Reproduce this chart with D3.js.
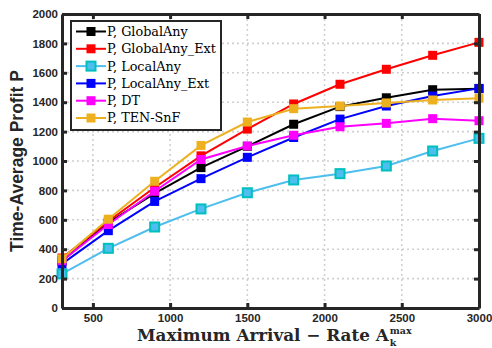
<!DOCTYPE html>
<html>
<head>
<meta charset="utf-8">
<script src="https://cdn.jsdelivr.net/npm/d3@7"></script>
<style>
  body { margin: 0; background: #fff; }
  svg { display: block; }
</style>
</head>
<body>
<div id="chart"></div>
<script>
// x positions (maximum arrival rate)
const arrival = [300, 600, 900, 1200, 1500, 1800, 2100, 2400, 2700, 3000];

const globalAny    = [320, 580, 780, 955, 1100, 1250, 1370, 1430, 1485, 1492];
const globalAnyExt = [340, 590, 820, 1035, 1217, 1388, 1522, 1624, 1719, 1807];
const localAny     = [232, 406, 551, 674, 784, 871, 914, 966, 1068, 1154];
const localAnyExt  = [300, 526, 725, 880, 1025, 1160, 1285, 1374, 1442, 1494];
const dt           = [322, 568, 794, 1010, 1102, 1175, 1233, 1256, 1288, 1274];
const tenSnF       = [335, 604, 862, 1106, 1265, 1356, 1374, 1395, 1415, 1427];

const xTicks = [500, 1000, 1500, 2000, 2500, 3000];
const yTicks = [0, 200, 400, 600, 800, 1000, 1200, 1400, 1600, 1800, 2000];

const series = [
  {label: 'P, GlobalAny',     values: globalAny,    line: '#000000', face: '#000000', edge: '#000000'},
  {label: 'P, GlobalAny_Ext', values: globalAnyExt, line: '#ff0000', face: '#ff0000', edge: '#ff0000'},
  {label: 'P, LocalAny',      values: localAny,     line: '#4dbeee', face: '#4dbeee', edge: '#00bfbf'},
  {label: 'P, LocalAny_Ext',  values: localAnyExt,  line: '#0000ff', face: '#0000ff', edge: '#0000ff'},
  {label: 'P, DT',            values: dt,           line: '#ff00ff', face: '#ff00ff', edge: '#ff00ff'},
  {label: 'P, TEN-SnF',       values: tenSnF,       line: '#edb120', face: '#edb120', edge: '#edb120'}
];

const width = 492, height = 348;
const margin = {left: 62, top: 14, right: 13, bottom: 40};
const w = width - margin.left - margin.right;
const h = height - margin.top - margin.bottom;
const axisColor = '#262626';

const svg = d3.select('#chart').append('svg')
  .attr('width', width).attr('height', height);

const g = svg.append('g')
  .attr('transform', 'translate(' + margin.left + ',' + margin.top + ')');

const x = d3.scaleLinear().domain([300, 3000]).range([0, w]);
const y = d3.scaleLinear().domain([0, 2000]).range([h, 0]);

// grid
const grid = g.append('g').attr('class', 'grid');
grid.selectAll('line.gx').data(xTicks.slice(0, -1)).enter().append('line')
  .attr('x1', d => x(d)).attr('x2', d => x(d))
  .attr('y1', 0).attr('y2', h)
  .attr('stroke', '#d0d0d0').attr('stroke-width', 1.6).attr('stroke-dasharray', '2,3');
grid.selectAll('line.gy').data(yTicks.slice(1, -1)).enter().append('line')
  .attr('x1', 0).attr('x2', w)
  .attr('y1', d => y(d)).attr('y2', d => y(d))
  .attr('stroke', '#d0d0d0').attr('stroke-width', 1.6).attr('stroke-dasharray', '2,3');

// lines
const line = d3.line()
  .x((d, i) => x(arrival[i]))
  .y(d => y(d));

const ms = 9;
series.forEach(s => {
  g.append('path')
    .datum(s.values)
    .attr('d', line)
    .attr('fill', 'none')
    .attr('stroke', s.line)
    .attr('stroke-width', 2);
  g.append('g').selectAll('rect').data(s.values).enter().append('rect')
    .attr('x', (d, i) => x(arrival[i]) - ms / 2)
    .attr('y', d => y(d) - ms / 2)
    .attr('width', ms).attr('height', ms)
    .attr('fill', s.face)
    .attr('stroke', s.edge)
    .attr('stroke-width', s.edge === s.face ? 0 : 2);
});

// axes
const tickFont = 'Liberation Sans, Arial, sans-serif';
const fmt = d3.format('d');
const axB = g.append('g')
  .attr('transform', 'translate(0,' + h + ')')
  .call(d3.axisBottom(x).tickValues(xTicks).tickFormat(fmt).tickSizeInner(-5).tickSizeOuter(0).tickPadding(6));
const axL = g.append('g')
  .call(d3.axisLeft(y).tickValues(yTicks).tickFormat(fmt).tickSizeInner(-5).tickSizeOuter(0).tickPadding(4));
const axT = g.append('g')
  .call(d3.axisTop(x).tickValues(xTicks).tickSizeInner(-5).tickSizeOuter(0).tickFormat(''));
const axR = g.append('g')
  .attr('transform', 'translate(' + w + ',0)')
  .call(d3.axisRight(y).tickValues(yTicks).tickSizeInner(-5).tickSizeOuter(0).tickFormat(''));

[axB, axL, axT, axR].forEach(a => {
  a.select('path.domain').attr('stroke', axisColor).attr('stroke-width', 3);
  a.selectAll('.tick line').attr('stroke', axisColor).attr('stroke-width', 3);
  a.selectAll('.tick text')
    .attr('fill', axisColor)
    .attr('font-family', tickFont)
    .attr('font-weight', 'bold')
    .attr('font-size', 11.5);
});

// axis labels
svg.append('text')
  .attr('transform', 'translate(23,' + (margin.top + h / 2) + ') rotate(-90)')
  .attr('text-anchor', 'middle')
  .attr('font-family', tickFont)
  .attr('font-weight', 'bold')
  .attr('font-size', 17.5)
  .attr('fill', axisColor)
  .text('Time-Average Profit P');

const xlFont = 'DejaVu Serif, Liberation Serif, serif';
const xl = svg.append('text')
  .attr('x', 137)
  .attr('y', 341)
  .attr('font-family', xlFont)
  .attr('font-weight', 'bold')
  .attr('font-size', 16.8)
  .attr('fill', axisColor)
  .text('Maximum Arrival \u2212 Rate A');
const xlEnd = 137 + xl.node().getComputedTextLength() + 1;
svg.append('text')
  .attr('x', xlEnd).attr('y', 346)
  .attr('font-family', xlFont).attr('font-weight', 'bold')
  .attr('font-size', 9.5).attr('fill', axisColor)
  .text('k');
svg.append('text')
  .attr('x', xlEnd).attr('y', 334)
  .attr('font-family', xlFont).attr('font-weight', 'bold')
  .attr('font-size', 9.5).attr('fill', axisColor)
  .text('max');

// legend
const lg = g.append('g').attr('transform', 'translate(9,7)');
const rowH = 17.3;
lg.append('rect')
  .attr('x', 0).attr('y', 0)
  .attr('width', 150).attr('height', 109)
  .attr('fill', '#fff')
  .attr('stroke', axisColor)
  .attr('stroke-width', 2);
const rows = lg.selectAll('g.row').data(series).enter().append('g')
  .attr('transform', (d, i) => 'translate(0,' + (10.5 + i * rowH) + ')');
rows.append('line')
  .attr('x1', 5).attr('x2', 35)
  .attr('stroke', d => d.line).attr('stroke-width', 2);
rows.append('rect')
  .attr('x', 20 - ms / 2).attr('y', -ms / 2)
  .attr('width', ms).attr('height', ms)
  .attr('fill', d => d.face)
  .attr('stroke', d => d.edge)
  .attr('stroke-width', d => d.edge === d.face ? 0 : 2);
rows.append('text')
  .attr('x', 36).attr('y', 0).attr('dy', '0.35em')
  .attr('font-family', 'DejaVu Serif, Liberation Serif, serif')
  .attr('font-size', 12.8)
  .attr('fill', '#000')
  .text(d => d.label);
</script>
</body>
</html>
